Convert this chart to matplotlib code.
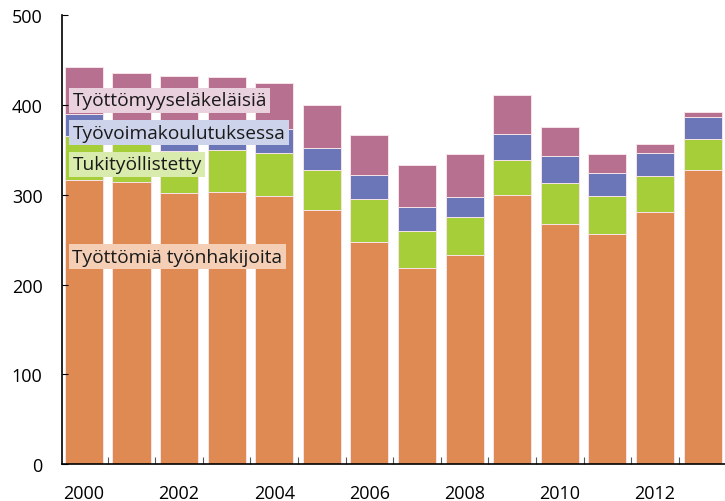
import matplotlib
matplotlib.use("Agg")
import matplotlib.pyplot as plt
import numpy as np

years = list(range(2000, 2014))
unemployed = [317, 314, 302, 303, 299, 283, 248, 218, 233, 300, 268, 256, 281, 328]
subsidised = [48, 47, 47, 47, 47, 45, 47, 42, 42, 39, 45, 43, 40, 34]
training = [25, 20, 27, 27, 27, 24, 27, 26, 23, 29, 30, 25, 26, 25]
pension = [52, 54, 56, 54, 51, 48, 44, 47, 47, 43, 32, 21, 10, 5]

series_names = ["Työttömiä työnhakijoita", "Tukityöllistetty",
                "Työvoimakoulutuksessa", "Työttömyyseläkeläisiä"]
label_values = [231, 334, 369, 405]
yticks = [0, 100, 200, 300, 400, 500]

colors = ["#E08A53", "#A6CE39", "#6A76B8", "#B87090"]
box_colors = ["#F4CFB6", "#DAEBAE", "#CDD3EA", "#E9D1DD"]

plt.rcParams['font.family'] = ['Open Sans', 'DejaVu Sans']

fig = plt.figure(figsize=(7.25, 5.02), dpi=100)
ax = fig.add_axes([0.0855, 0.073, 0.9145, 0.895])

x = np.arange(len(years))
bottom = np.zeros(len(years))
for vals, c in zip([unemployed, subsidised, training, pension], colors):
    ax.bar(x, vals, bottom=bottom, width=0.8, color=c,
           edgecolor="#F6E3E8", linewidth=0.7)
    bottom += np.array(vals)

for name, v, bc in zip(series_names, label_values, box_colors):
    ax.text(-0.24, v, name, fontsize=13.8, va="center", ha="left",
            color="#1a1a1a",
            bbox=dict(boxstyle="square,pad=0.18", fc=bc, ec="none"))

ax.set_xlim(-0.46, 13.47)
ax.set_ylim(0, 500)
ax.set_yticks(yticks)
ax.set_yticklabels([str(t) for t in yticks], fontsize=13)
ax.set_xticks(x[::2])
ax.set_xticklabels([str(y) for y in years[::2]], fontsize=13)
ax.set_xticks(x[:-1] + 0.5, minor=True)
ax.tick_params(axis="x", which="major", length=0, pad=14)
ax.tick_params(axis="x", which="minor", direction="in", length=5,
               width=0.8, color="#555555")
ax.tick_params(axis="y", direction="in", length=4, width=0.8, pad=14)
for t in ax.get_yticklabels():
    t.set_horizontalalignment("right")

for s in ["top", "right"]:
    ax.spines[s].set_visible(False)
for s in ["left", "bottom"]:
    ax.spines[s].set_linewidth(1.2)
    ax.spines[s].set_color("black")

fig.savefig("out.png", dpi=100)
